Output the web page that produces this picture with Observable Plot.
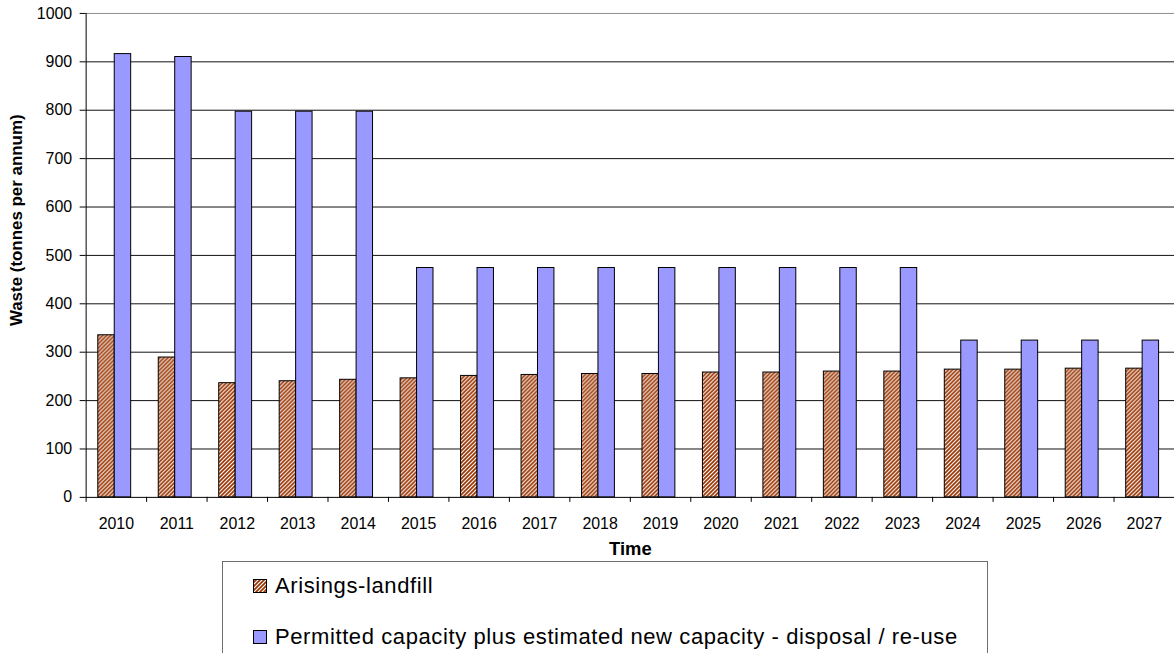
<!DOCTYPE html>
<html>
<head>
<meta charset="utf-8">
<script src="https://cdn.jsdelivr.net/npm/d3@7"></script>
<script src="https://cdn.jsdelivr.net/npm/@observablehq/plot@0.6"></script>
<style>
  html, body { margin: 0; padding: 0; background: #fff; overflow: hidden; width: 1174px; height: 653px; }
  #chart svg { display: block; }
  #legend {
    position: absolute; left: 222px; top: 561px; width: 766px; height: 120px;
    box-sizing: border-box; border: 1px solid #6e6e6e; background: #fff;
    font-family: "Liberation Sans", Arial, sans-serif; font-size: 22px; color: #000;
  }
  .item { position: absolute; left: 30px; display: flex; align-items: center; white-space: nowrap; letter-spacing: 0.6px; }
  .item svg { margin-right: 8px; }
</style>
</head>
<body>
<div id="chart"></div>
<div id="legend"></div>
<script>
const years = [2010, 2011, 2012, 2013, 2014, 2015, 2016, 2017, 2018, 2019, 2020, 2021, 2022, 2023, 2024, 2025, 2026, 2027];
const arisingsLandfill = [335, 289, 236, 240, 243, 246, 251, 253, 255, 255, 258, 258, 260, 260, 264, 264, 266, 266];
const permittedCapacity = [916, 910, 797, 797, 797, 474, 474, 474, 474, 474, 474, 474, 474, 474, 324, 324, 324, 324];
const yTicks = [0, 100, 200, 300, 400, 500, 600, 700, 800, 900, 1000];
const seriesNames = ["Arisings-landfill", "Permitted capacity plus estimated new capacity - disposal / re-use"];
const yTitle = "Waste (tonnes per annum)";
const xTitle = "Time";

const hatchColor = "#993300";
const blueColor = "#9999ff";
const barW = 0.272;   // bar width in year units
const shift = 0.027;  // group offset

const dataA = years.map((year, i) => ({year, value: arisingsLandfill[i]}));
const dataB = years.map((year, i) => ({year, value: permittedCapacity[i]}));
const boundaries = years.map(y => y - 0.5).concat([years[years.length - 1] + 0.5]);

const plot = Plot.plot({
  width: 1179,
  height: 560,
  marginLeft: 86,
  marginRight: 0,
  marginTop: 13,
  marginBottom: 61,
  style: {fontFamily: "'Liberation Sans', Arial, sans-serif", fontSize: "16px", color: "#000", background: "#fff", overflow: "visible"},
  x: {domain: [years[0] - 0.5, years[years.length - 1] + 0.5]},
  y: {domain: [0, 1000]},
  marks: [
    Plot.ruleY(yTicks.filter(d => d > 0 && d < 1000), {stroke: "#111", strokeWidth: 1}),
    Plot.ruleY([1000], {stroke: "#8c8c8c", strokeWidth: 1}),
    Plot.rect(dataA, {x1: d => d.year - barW - shift, x2: d => d.year - shift, y1: 0, y2: "value", fill: "url(#hatch)", stroke: "#000", strokeWidth: 1}),
    Plot.rect(dataB, {x1: d => d.year - shift, x2: d => d.year - shift + barW, y1: 0, y2: "value", fill: blueColor, stroke: "#000", strokeWidth: 1}),
    Plot.ruleY([0], {stroke: "#000", strokeWidth: 1}),
    Plot.frame({anchor: "left", stroke: "#000", strokeWidth: 1}),
    Plot.axisY({ticks: yTicks, tickSize: 6, tickPadding: 8, tickFormat: d => String(d), label: null, fontSize: 16}),
    Plot.axisX({ticks: years, tickSize: 0, tickPadding: 20, tickFormat: d => String(d), label: null, fontSize: 16}),
    Plot.axisX({ticks: boundaries, tickSize: 5, tickFormat: () => "", label: null}),
    Plot.text([xTitle], {frameAnchor: "bottom", dy: 52, lineAnchor: "middle", fontWeight: "bold", fontSize: 18.5}),
    Plot.text([yTitle], {frameAnchor: "left", rotate: -90, textAnchor: "start", lineAnchor: "middle", dx: -70, dy: 71, fontWeight: "bold", fontSize: 17})
  ]
});

const defs = `<defs>
  <pattern id="hatch" patternUnits="userSpaceOnUse" width="4" height="4">
    <rect width="4" height="4" fill="#fff"/>
    <path d="M-1,1 l2,-2 M0,4 l4,-4 M3,5 l2,-2" stroke="${hatchColor}" stroke-width="1.7"/>
  </pattern>
</defs>`;
plot.insertAdjacentHTML("afterbegin", defs);
document.getElementById("chart").appendChild(plot);

const legend = document.getElementById("legend");
const swatches = [
  `<svg width="14" height="14"><defs><pattern id="hatchL" patternUnits="userSpaceOnUse" width="4" height="4"><rect width="4" height="4" fill="#fff"/><path d="M-1,1 l2,-2 M0,4 l4,-4 M3,5 l2,-2" stroke="${hatchColor}" stroke-width="1.7"/></pattern></defs><rect x="0.5" y="0.5" width="13" height="13" fill="url(#hatchL)" stroke="#000"/></svg>`,
  `<svg width="14" height="14"><rect x="0.5" y="0.5" width="13" height="13" fill="${blueColor}" stroke="#000"/></svg>`
];
const tops = [11, 62];
seriesNames.forEach((name, i) => {
  const div = document.createElement("div");
  div.className = "item";
  div.style.top = tops[i] + "px";
  div.innerHTML = swatches[i] + `<span>${name}</span>`;
  legend.appendChild(div);
});
</script>
</body>
</html>
